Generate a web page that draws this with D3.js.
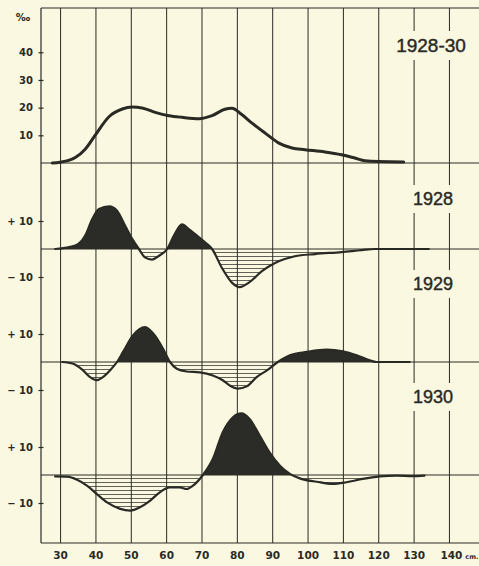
<!DOCTYPE html>
<html>
<head>
<meta charset="utf-8">
<script src="https://cdn.jsdelivr.net/npm/d3@7"></script>
<style>
html, body { margin: 0; padding: 0; background: #fbf8e1; }
svg { display: block; }
</style>
</head>
<body>
<div id="chart"></div>
<script>
// values: [length cm, value]
var total1928_30 = [[27.8,0],[30,0.3],[34.3,2],[37.1,5],[39.9,10],[43.9,16.8],[47.6,19.5],[50.4,20.2],
    [53.2,19.9],[56.9,18.3],[60.8,17.1],[64.5,16.5],[69.3,16],[73,17.1],[76.6,19.4],[78.6,19.8],
    [81.4,17.5],[84.3,14.4],[88,10.8],[91.9,7.2],[95.6,5.4],[99.3,4.8],[104.9,4],[109.6,3],
    [113.4,1.8],[116.2,0.8],[120.1,0.5],[127.2,0.4]];

var diff1928 = [[28.6,0],[34.3,1.2],[37.1,4.8],[39.1,10.7],[41,14.3],[43.9,15.2],[46.1,13.7],
    [48.4,8.3],[50.4,3.6],[52.3,0],[54,-3],[56,-3.8],[58,-2.4],[60.3,0],[62.2,4.8],
    [64.5,8.8],[66.4,7.1],[69.3,4.2],[71,2.4],[73,0],[75.8,-6.8],[78.6,-12],[80.8,-13.6],
    [83.4,-12],[87.1,-7.9],[90.8,-5],[96.4,-2.6],[102.1,-1.8],[109.6,-1.1],[115.3,-0.4],
    [119,0],[134.3,0]];

var diff1929 = [[30.6,0],[33.7,-0.6],[36.5,-3],[38.5,-5.4],[40.4,-6.5],[42.1,-5.4],[44.1,-3],
    [46.1,0],[47.8,3.6],[50.6,9.5],[54,12.5],[56.8,9.5],[59.1,4.8],[61.1,0],[63,-2.4],
    [65.8,-3.4],[69.5,-3.7],[73.2,-4.8],[76,-6.5],[78,-8.4],[80.3,-9.5],[82.8,-8.7],
    [85.6,-5.4],[88.5,-3],[91.6,0],[95,2.4],[99.8,3.6],[105.4,4.4],[110,3.8],[113.9,2.4],
    [117.6,0.6],[119.5,0],[128.9,0]];

var diff1930 = [[28.6,-0.5],[32,-0.6],[34.8,-1.7],[37.6,-3.8],[40.4,-6.8],[43.3,-9.8],[47,-12.1],
    [49.8,-12.7],[52.6,-11.5],[55.4,-9.2],[58.2,-6.2],[61,-4.4],[63.9,-4.4],[65.8,-5],
    [67.6,-3.8],[70.4,0],[73.2,5.7],[76,15.2],[78.9,20.6],[81.3,22],[83.6,20],[86.5,14],
    [89.3,8],[92.2,3.3],[95,0.4],[97.8,-1.2],[102.6,-2.4],[107.1,-3.2],[111,-2.6],
    [115.6,-1.4],[120.4,-0.5],[125.2,-0.2],[129.7,-0.4],[133.1,-0.2]];

var xTicks = [30, 40, 50, 60, 70, 80, 90, 100, 110, 120, 130, 140];
var topTicks = [10, 20, 30, 40];
var diffTicks = [10, -10];

var width = 479, height = 566;
var paper = '#fbf8e1', ink = '#2a2a25';
var plotTop = 8, plotBottom = 543, left = 41;

var svg = d3.select('#chart').append('svg')
    .attr('width', width)
    .attr('height', height)
    .style('background', paper);

var x = d3.scaleLinear().domain([24.6, 148.5]).range([left, width]);
var yTop = d3.scaleLinear().domain([0, 56]).range([163, plotTop]);

var panels = [
    {label: '1928', data: diff1928, base: 249, title: [433, 205]},
    {label: '1929', data: diff1929, base: 362, title: [433, 290]},
    {label: '1930', data: diff1930, base: 475, title: [433, 403]}
];
panels.forEach(function (p) {
    p.y = d3.scaleLinear().domain([-10, 10]).range([p.base + 28, p.base - 28]);
});

var defs = svg.append('defs');

// vertical grid via the x axis
var xAxis = svg.append('g')
    .attr('transform', 'translate(0,' + plotBottom + ')')
    .call(d3.axisBottom(x).tickValues(xTicks).tickSize(-(plotBottom - plotTop)).tickPadding(9)
        .tickFormat(function (d) { return d; }));
xAxis.select('.domain').remove();
xAxis.selectAll('.tick line').attr('stroke', ink).attr('stroke-width', 1);
xAxis.selectAll('.tick text')
    .attr('fill', ink)
    .style('font-family', 'DejaVu Sans')
    .style('font-weight', 'bold')
    .style('font-size', '10.5px');
xAxis.selectAll('.tick').filter(function (d) { return d === 140; }).select('text')
    .attr('text-anchor', 'start').attr('dx', -9)
    .append('tspan').attr('dx', 3).style('font-size', '6.5px').text('cm.');

// horizontal rules
var rules = [plotTop, yTop(0)].concat(panels.map(function (p) { return p.base; }), [plotBottom]);
svg.selectAll('line.rule')
    .data(rules)
    .enter().append('line')
    .attr('class', 'rule')
    .attr('x1', left).attr('x2', width)
    .attr('y1', function (d) { return d; }).attr('y2', function (d) { return d; })
    .attr('stroke', ink).attr('stroke-width', 1);

// left axis line
svg.append('line')
    .attr('x1', left).attr('x2', left)
    .attr('y1', plotTop).attr('y2', plotBottom)
    .attr('stroke', ink).attr('stroke-width', 1.2);

var styleAxis = function (g) {
    g.select('.domain').remove();
    g.selectAll('.tick line').attr('x1', 2.5).attr('x2', -2.5).attr('stroke', ink).attr('stroke-width', 1.2);
    g.selectAll('.tick text')
        .attr('x', -8)
        .attr('fill', ink)
        .style('font-family', 'DejaVu Sans')
        .style('font-weight', 'bold')
        .style('font-size', '10px');
};

svg.append('g')
    .attr('transform', 'translate(' + left + ',0)')
    .call(d3.axisLeft(yTop).tickValues(topTicks).tickSize(3))
    .call(styleAxis);

svg.append('text')
    .attr('x', 23).attr('y', 21)
    .attr('text-anchor', 'middle')
    .attr('fill', ink)
    .style('font-family', 'DejaVu Sans')
    .style('font-weight', 'bold')
    .style('font-size', '10px')
    .text('‰');

var curve = d3.curveMonotoneX;

// title with a paper box behind (breaks the grid lines)
var title = function (txt, cx, by, size) {
    var t = svg.append('text')
        .attr('x', cx).attr('y', by)
        .attr('text-anchor', 'middle')
        .attr('fill', ink)
        .attr('stroke', ink).attr('stroke-width', 0.45)
        .style('font-family', 'Liberation Sans')
        .style('font-size', size + 'px')
        .text(txt);
    var b = t.node().getBBox();
    svg.insert('rect', function () { return t.node(); })
        .attr('x', b.x - 1).attr('y', b.y - 4)
        .attr('width', b.width + 4).attr('height', b.height + 8)
        .attr('fill', paper);
};

title('1928-30', 431, 52, 19);

// top panel: total curve
var topLine = d3.line()
    .x(function (d) { return x(d[0]); })
    .y(function (d) { return yTop(d[1]); })
    .curve(curve);

svg.append('path')
    .datum(total1928_30)
    .attr('d', topLine)
    .attr('fill', 'none')
    .attr('stroke', ink)
    .attr('stroke-width', 3)
    .attr('stroke-linecap', 'round');

// difference panels
panels.forEach(function (p, i) {
    svg.append('g')
        .attr('transform', 'translate(' + left + ',0)')
        .call(d3.axisLeft(p.y).tickValues(diffTicks).tickSize(3)
            .tickFormat(function (d) { return (d > 0 ? '+ ' : '\u2212 ') + Math.abs(d); }))
        .call(styleAxis);

    title(p.label, p.title[0], p.title[1], 18);

    var pat = defs.append('pattern')
        .attr('id', 'hatch' + i)
        .attr('patternUnits', 'userSpaceOnUse')
        .attr('x', 0).attr('y', p.base)
        .attr('width', 10).attr('height', 4);
    pat.append('line')
        .attr('x1', 0).attr('x2', 10)
        .attr('y1', 3.7).attr('y2', 3.7)
        .attr('stroke', ink).attr('stroke-width', 0.9);

    defs.append('clipPath').attr('id', 'above' + i)
        .append('rect').attr('x', 0).attr('y', 0).attr('width', width).attr('height', p.base);
    defs.append('clipPath').attr('id', 'below' + i)
        .append('rect').attr('x', 0).attr('y', p.base).attr('width', width).attr('height', height);

    var area = d3.area()
        .x(function (d) { return x(d[0]); })
        .y0(p.base)
        .y1(function (d) { return p.y(d[1]); })
        .curve(curve);

    svg.append('path')
        .datum(p.data)
        .attr('d', area)
        .attr('fill', '#2b2b28')
        .attr('clip-path', 'url(#above' + i + ')');

    svg.append('path')
        .datum(p.data)
        .attr('d', area)
        .attr('fill', 'url(#hatch' + i + ')')
        .attr('clip-path', 'url(#below' + i + ')');

    var line = d3.line()
        .x(function (d) { return x(d[0]); })
        .y(function (d) { return p.y(d[1]); })
        .curve(curve);

    svg.append('path')
        .datum(p.data)
        .attr('d', line)
        .attr('fill', 'none')
        .attr('stroke', ink)
        .attr('stroke-width', 2.2)
        .attr('stroke-linecap', 'round');
});
</script>
</body>
</html>
